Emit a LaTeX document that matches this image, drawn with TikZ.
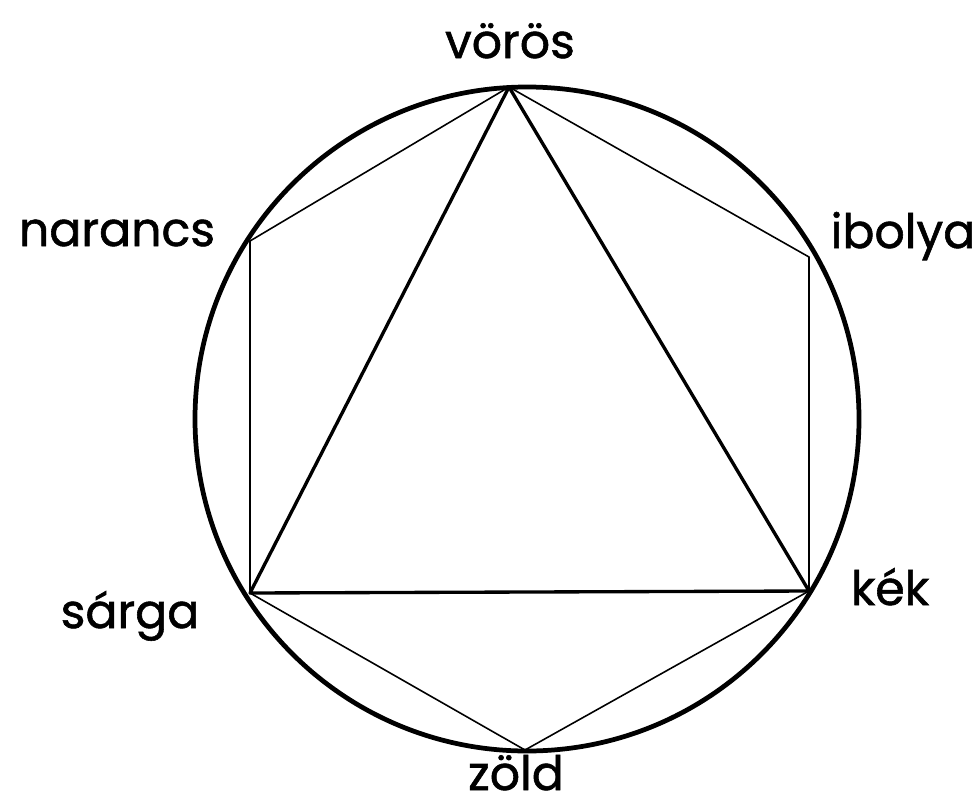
\documentclass[tikz,border=0pt]{standalone}
\usepackage{fontspec}
\newfontfamily\handfont[FakeBold=1.2]{Poppins}
\usetikzlibrary{positioning}

\begin{document}
\begin{tikzpicture}[x=0.02cm, y=-0.02cm,
  rim/.style={line width=2.7pt},
  tri/.style={line width=1.9pt, line join=round},
  hex/.style={line width=0.9pt, line join=round},
  lbl/.style={font=\handfont\fontsize{27}{30}\selectfont, anchor=base, inner sep=0pt}]
\useasboundingbox (0,0) rectangle (980,808);
% the colour wheel
\draw[rim] (527,419) circle[radius=332];
\coordinate (voros) at (509,87);
\coordinate (ibolya) at (809,257);
\coordinate (kek) at (809,591);
\coordinate (zold) at (525,750);
\coordinate (sarga) at (250,593);
\coordinate (narancs) at (250,241);
% hexagon
\draw[hex] (voros) -- (ibolya) -- (kek) -- (zold) -- (sarga) -- (narancs) -- cycle;
% triangle of the primaries
\draw[tri] (voros) -- (kek) -- (sarga) -- cycle;
% labels
\node[lbl] (tvoros) at (510,58) {vörös};
\node[lbl] (tnarancs) at (117,246) {narancs};
\node[lbl] (tibolya) at (903,248) {ibolya};
\node[lbl] (tsarga) at (130,628) {sárga};
\node[lbl] (tkek) at (890,605) {kék};
\node[lbl] (tzold) at (516,790) {zöld};
\end{tikzpicture}
\end{document}
